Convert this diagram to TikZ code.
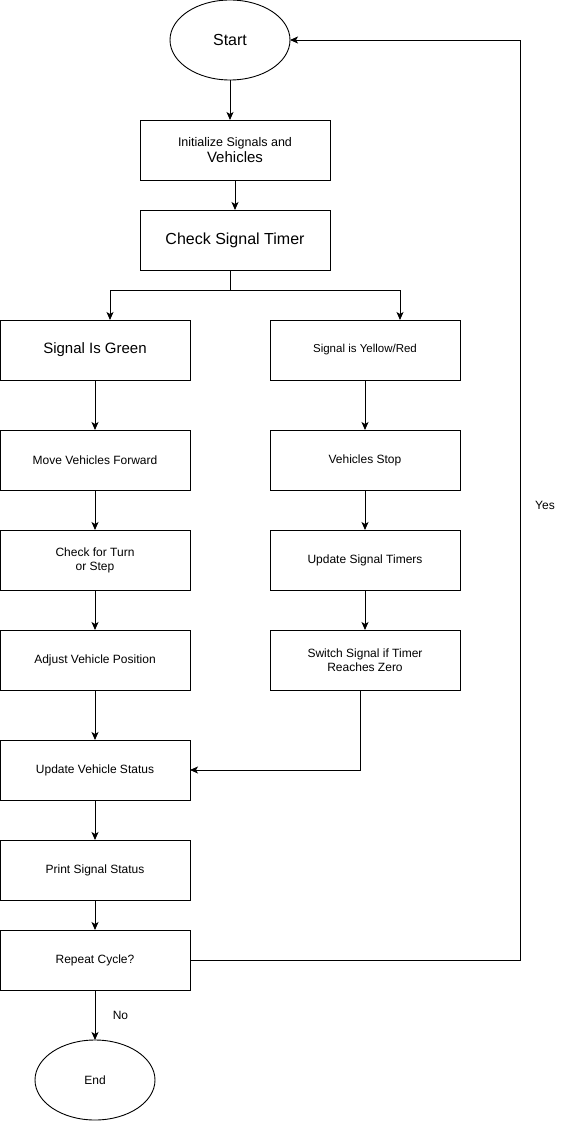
\documentclass[tikz,border=0pt]{standalone}
\usepackage{fontspec}
\setmainfont{Liberation Sans}
\usetikzlibrary{positioning}
\usetikzlibrary{shapes.geometric}
\usetikzlibrary{arrows.meta}

\begin{document}
\begin{tikzpicture}
		[x=1pt, y=-1pt,
		 stepbox/.style={rectangle, draw=black, line width=0.9pt, minimum width=190pt, minimum height=60pt, align=center, inner sep=2pt, outer sep=0pt, font=\fontsize{12}{14}\selectfont},
		 terminal/.style={ellipse, draw=black, line width=0.9pt, minimum width=120pt, minimum height=80pt, inner sep=0pt, outer sep=0pt},
		 arr/.style={-{Stealth[length=8pt, width=7pt, inset=2pt]}, line width=0.9pt},
		 link/.style={line width=0.9pt}]
		\useasboundingbox (0,0) rectangle (571,1121);

		\node[terminal, font=\fontsize{16}{18}\selectfont] (start) at (230,40) {Start};
		\node[stepbox] (init) at (235,150) {\fontsize{12.5}{15}\selectfont Initialize Signals and\\[2pt]\fontsize{15}{16}\selectfont Vehicles};
		\node[stepbox, below=30pt of init, font=\fontsize{16}{18}\selectfont] (check) {Check Signal Timer};

		% left branch
		\node[stepbox, font=\fontsize{15}{17}\selectfont] (green) at (95,350) {Signal Is Green};
		\node[stepbox, below=50pt of green] (move) {Move Vehicles Forward};
		\node[stepbox, below=40pt of move] (turn) {Check for Turn\\or Step};
		\node[stepbox, below=40pt of turn] (adjust) {Adjust Vehicle Position};
		\node[stepbox, below=50pt of adjust] (update) {Update Vehicle Status};
		\node[stepbox, below=40pt of update] (print) {Print Signal Status};
		\node[stepbox, below=30pt of print] (repeat) {Repeat Cycle?};
		\node[terminal, below=50pt of repeat, font=\fontsize{12}{14}\selectfont] (end) {End};

		% right branch
		\node[stepbox, font=\fontsize{11.5}{14}\selectfont] (yellow) at (365,350) {Signal is Yellow/Red};
		\node[stepbox, below=50pt of yellow] (stop) {Vehicles Stop};
		\node[stepbox, below=40pt of stop] (timers) {Update Signal Timers};
		\node[stepbox, below=40pt of timers] (switch) {Switch Signal if Timer\\Reaches Zero};

		\coordinate (fork) at (230,290);
		\node[font=\fontsize{12}{14}\selectfont] (yes) at (545,505) {Yes};

		\draw[arr] (start) -- (start |- init.north);
		\draw[arr] (init) -- (check);
		\draw[link] (check.south -| fork) -- (fork);
		\draw[arr] (fork) -| ([xshift=15pt]green.north);
		\draw[arr] (fork) -| ([xshift=35pt]yellow.north);
		\draw[arr] (green) -- (move);
		\draw[arr] (move) -- (turn);
		\draw[arr] (turn) -- (adjust);
		\draw[arr] (adjust) -- (update);
		\draw[arr] (update) -- (print);
		\draw[arr] (print) -- (repeat);
		\draw[arr] (repeat) -- (end) node[midway, right=14pt, font=\fontsize{12}{14}\selectfont] {No};
		\draw[arr] (yellow) -- (stop);
		\draw[arr] (stop) -- (timers);
		\draw[arr] (timers) -- (switch);
		\draw[arr] ([xshift=-5pt]switch.south) |- (update.east);
		\draw[arr] (repeat.east) -- ++(330,0) |- (start.east);
	\end{tikzpicture}
\end{document}
